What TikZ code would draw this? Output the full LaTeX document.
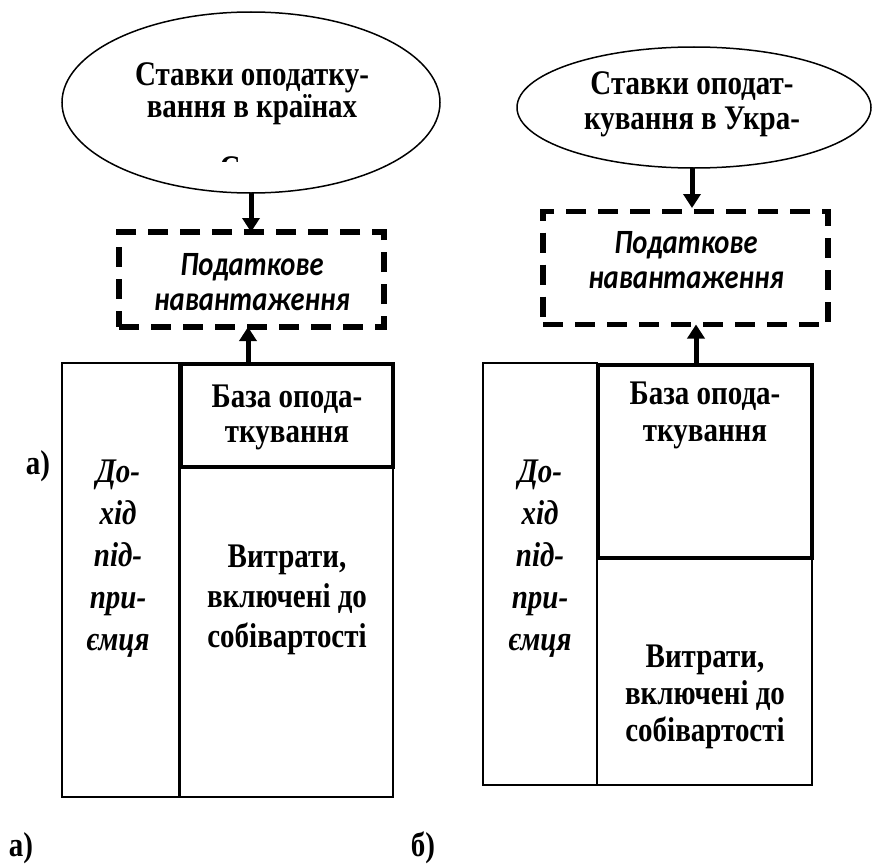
\documentclass[tikz,border=0pt]{standalone}
\usepackage{fontspec}
\setmainfont[FakeStretch=0.84]{Liberation Serif}
\newfontfamily\calibfont[FakeStretch=0.84]{Carlito}
\usetikzlibrary{shapes.geometric,arrows.meta}

\begin{document}
\begin{tikzpicture}[x=1pt,y=-1pt,
  ell/.style={draw,ellipse,line width=1.5pt,inner sep=0pt,outer sep=0pt},
  loadbox/.style={draw,line width=5.5pt,dash pattern=on 20pt off 12pt,
    inner sep=0pt,outer sep=0pt},
  thinbox/.style={draw,line width=2pt,inner sep=0pt,outer sep=0pt},
  thickbox/.style={draw,line width=4pt,inner sep=0pt,outer sep=0pt},
  arr/.style={line width=5pt,-{Triangle[width=17pt,length=14pt]}},
  txt/.style={align=center,inner sep=0pt},
  bsz/.style={font={\fontsize{34.5}{#1}\selectfont\bfseries}},
  isz/.style={font={\fontsize{34.5}{#1}\selectfont\bfseries\itshape}},
  csz/.style={font={\calibfont\fontsize{34}{#1}\selectfont\bfseries\itshape}},
]
\useasboundingbox (0,0) rectangle (872,867);

% ---------------- part a) ----------------
\node[ell,minimum width=378pt,minimum height=181pt] (rate1) at (251,102.5) {};
\node[txt,bsz=32] (rate1t) at (252,94) {Ставки оподатку-\\вання в країнах};
\begin{scope}
  \clip (150,140) rectangle (350,161);
  \node[bsz=32,inner sep=0pt,anchor=base] (rate1c) at (230,179) {С};
\end{scope}

\node[loadbox,minimum width=265pt,minimum height=95pt] (load1) at (251.5,279.5) {};
\node[txt,csz=35] (load1t) at (252,282.5) {Податкове\\навантаження};

\node[thinbox,minimum width=117pt,minimum height=434pt] (inc1) at (120.5,580) {};
\node[thinbox,minimum width=213pt,minimum height=330pt] (cost1) at (286.5,632) {};
\node[thickbox,minimum width=212pt,minimum height=103pt] (base1) at (287,415.5) {};

\node[txt,isz=42] (inc1t) at (118,558.5) {До-\\хід\\під-\\при-\\ємця};
\node[txt,bsz=35] (base1t) at (287,417) {База опода-\\ткування};
\node[txt,bsz=40] (cost1t) at (287,600) {Витрати,\\включені до\\собівартості};

\draw[arr] (rate1.south) -- (rate1.south |- load1.north);
\coordinate (up1) at ([xshift=-39pt]base1.north);
\draw[arr] (up1) -- (up1 |- load1.south);

\node[bsz=32,inner sep=0pt] (labA) at (38,466) {а)};

% ---------------- part b) ----------------
\node[ell,minimum width=354pt,minimum height=121pt] (rate2) at (694,107.5) {};
\node[txt,bsz=35] (rate2t) at (692,104.5) {Ставки оподат-\\кування в Укра-};

\node[loadbox,minimum width=285pt,minimum height=113pt] (load2) at (685.5,268) {};
\node[txt,csz=35] (load2t) at (686,260.5) {Податкове\\навантаження};

\node[thinbox,minimum width=114pt,minimum height=422pt] (inc2) at (540,574) {};
\node[thinbox,minimum width=215pt,minimum height=227pt] (cost2) at (704.5,671.5) {};
\node[thickbox,minimum width=214pt,minimum height=193pt] (base2) at (705,461.5) {};

\node[txt,isz=42] (inc2t) at (540,558.5) {До-\\хід\\під-\\при-\\ємця};
\node[txt,bsz=37] (base2t) at (705,415.5) {База опода-\\ткування};
\node[txt,bsz=37] (cost2t) at (705,697) {Витрати,\\включені до\\собівартості};

\draw[arr] (rate2.south -| 692,0) -- (692,208);
\coordinate (up2) at ([xshift=-9pt]base2.north);
\draw[arr] (up2) -- (up2 |- load2.south);

% ---------------- captions ----------------
\node[bsz=32,inner sep=0pt] (capA) at (21,848) {а)};
\node[bsz=32,inner sep=0pt] (capB) at (423,848) {б)};
\end{tikzpicture}
\end{document}
